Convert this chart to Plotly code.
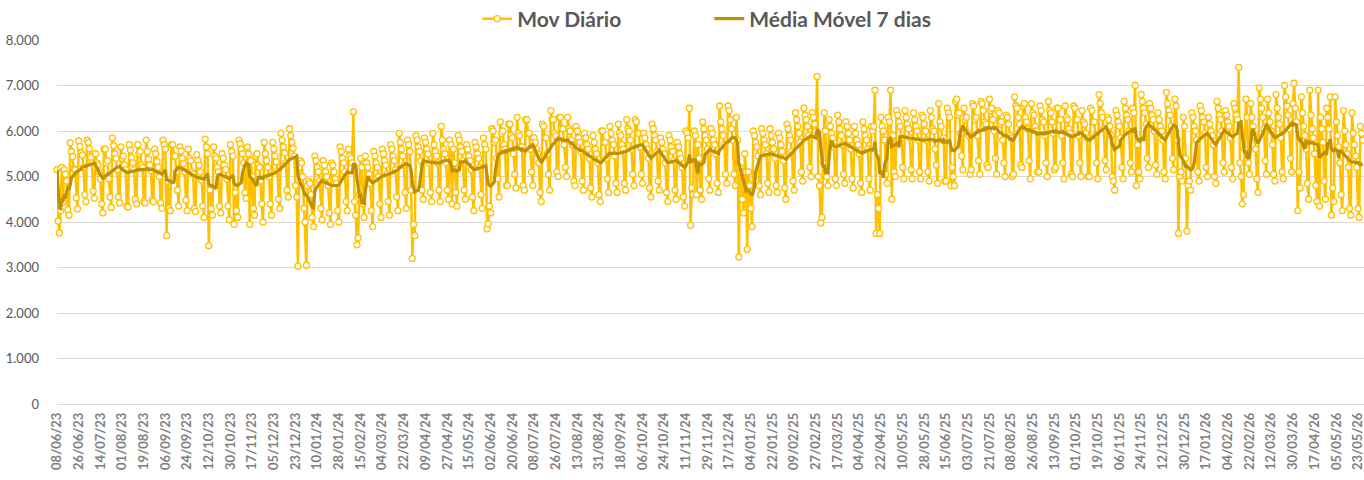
import pandas as pd
import plotly.graph_objects as go

# ---------------- DATA ----------------
start_date = "2023-06-08"

# Daily values ("Mov Diário"), one row per calendar week (Mon..Sun)
mov_bloco1 = [  # 08/06/23 - 03/12/23
    5150, 4020, 3760, 4250,
    5200, 4430, 5150, 5050, 4900, 4270, 4150,
    5740, 5550, 5440, 5170, 5150, 4530, 4290,
    5780, 5660, 5520, 5470, 5200, 4600, 4450,
    5800, 5750, 5610, 5420, 5300, 4680, 4520,
    5500, 5300, 5250, 5100, 4950, 4400, 4200,
    5600, 5600, 5300, 5350, 4950, 4550, 4320,
    5850, 5680, 5500, 5400, 5150, 4550, 4420,
    5650, 5400, 5450, 5250, 5150, 4350, 4330,
    5700, 5580, 5420, 5300, 5150, 4500, 4400,
    5700, 5500, 5550, 5250, 5200, 4450, 4420,
    5800, 5550, 5380, 5250, 5130, 4480, 4450,
    5600, 5500, 5330, 5200, 5000, 4420, 4300,
    5800, 5700, 5600, 3700, 4900, 4300, 4250,
    5700, 5700, 5450, 5450, 5100, 4700, 4350,
    5650, 5560, 5400, 5280, 5100, 4480, 4250,
    5600, 5400, 5350, 5100, 5050, 4300, 4230,
    5480, 5350, 5250, 5100, 4920, 4350, 4100,
    5820, 5650, 5500, 3480, 4700, 4300, 4150,
    5650, 5450, 5400, 5200, 5100, 4350, 4200,
    5500, 5400, 5250, 5150, 4950, 4350, 4050,
    5700, 5550, 5450, 3950, 4650, 4250, 4100,
    5800, 5720, 5600, 5500, 5300, 4650, 4520,
    5650, 5500, 3950, 5350, 5000, 4300, 4150,
    5450, 5500, 5250, 5200, 4900, 4400, 4000,
    5750, 5500, 5350, 5200, 5000, 4400, 4150,
]
mov_bloco2 = [  # 04/12/23 - 02/06/24
    5750, 5600, 5450, 5320, 5120, 4500, 4300,
    5950, 5800, 5650, 5520, 5300, 4700, 4550,
    6050, 5900, 5750, 5620, 5450, 4800, 4550,
    3030, 5200, 5350, 5300, 5000, 4300, 4000,
    3050, 4800, 4900, 4850, 4600, 4100, 3900,
    5450, 5350, 5200, 5100, 4900, 4300, 4050,
    5350, 5250, 5100, 5000, 4800, 4200, 3950,
    5300, 5250, 5100, 4950, 4850, 4250, 4000,
    5650, 5550, 5400, 5300, 5100, 4450, 4250,
    5600, 5450, 5400, 5300, 6420, 4450, 4150,
    3500, 3650, 4600, 5400, 5200, 4400, 4100,
    5450, 5300, 5200, 5050, 4850, 4250, 3900,
    5550, 5450, 5300, 5200, 5000, 4400, 4100,
    5600, 5500, 5350, 5250, 5050, 4450, 4150,
    5700, 5600, 5450, 5350, 5150, 4550, 4250,
    5950, 5750, 5600, 5450, 5250, 4650, 4300,
    5800, 5700, 5550, 4700, 3200, 3950, 3700,
    5900, 5800, 5650, 5550, 5350, 4700, 4500,
    5850, 5750, 5600, 5500, 5300, 4650, 4450,
    5950, 5700, 5550, 5450, 5300, 4700, 4450,
    6100, 5800, 5600, 5500, 5300, 4700, 4500,
    5800, 5700, 4400, 5600, 5300, 4650, 4350,
    5900, 5800, 5650, 5550, 5350, 4700, 4500,
    5700, 5600, 5450, 5350, 5150, 4550, 4250,
    5750, 5650, 5500, 5400, 5200, 4600, 4300,
    5850, 5700, 5600, 3850, 3960, 4350, 4200,
]
mov_bloco3 = [  # 03/06/24 - 01/12/24
    6050, 6000, 5750, 5800, 5400, 4950, 4550,
    6200, 5950, 6000, 5700, 5600, 4800, 4800,
    6150, 6150, 5900, 5850, 5500, 5050, 4750,
    6300, 5950, 5900, 5650, 5650, 4800, 4700,
    6250, 6250, 5950, 5950, 5600, 5100, 4800,
    5850, 5750, 5600, 5500, 5300, 4650, 4450,
    6150, 6100, 5850, 5850, 5500, 5050, 4700,
    6450, 6250, 6250, 5950, 5900, 5100, 5000,
    6300, 6300, 6050, 6050, 5700, 5200, 5000,
    6300, 6050, 6000, 5800, 5700, 4900, 4800,
    6100, 6000, 5850, 5750, 5550, 4900, 4700,
    5950, 5850, 5700, 5600, 5400, 4750, 4550,
    5900, 5750, 5600, 5500, 5300, 4600, 4450,
    6000, 6000, 5750, 5750, 5400, 4950, 4650,
    6100, 5950, 5800, 5700, 5450, 4850, 4650,
    6150, 5950, 5900, 5700, 5600, 4850, 4700,
    6250, 6050, 6000, 5800, 5600, 5050, 4800,
    6250, 6200, 5950, 5950, 5650, 5050, 4850,
    5950, 5850, 5700, 5600, 5400, 4750, 4550,
    6150, 6050, 5900, 5800, 5550, 4900, 4700,
    5850, 5750, 5600, 5500, 5300, 4650, 4450,
    5900, 5800, 5650, 5550, 5350, 4700, 4500,
    5750, 5650, 5500, 5400, 5200, 4550, 4350,
    6000, 5950, 5850, 6500, 3930, 4750, 4600,
    6000, 5900, 4600, 5700, 5400, 4700, 4500,
    6200, 6050, 5900, 5800, 5600, 4950, 4700,
]
mov_bloco4 = [  # 02/12/24 - 01/06/25
    6050, 5950, 5800, 5700, 5500, 4850, 4650,
    6550, 6200, 6050, 5900, 5700, 5050, 4850,
    6550, 6450, 6250, 6050, 5800, 5050, 4800,
    6300, 5800, 3230, 5200, 5100, 4500, 4200,
    5500, 5100, 3400, 5100, 4800, 4300, 3900,
    6000, 5900, 5750, 5650, 5450, 4800, 4600,
    6050, 5950, 5800, 5700, 5500, 4850, 4650,
    6050, 5900, 5750, 5600, 5400, 4800, 4650,
    5950, 5850, 5700, 5550, 5350, 4750, 4500,
    6150, 6050, 5900, 5800, 5550, 4900, 4700,
    6400, 6250, 6100, 5950, 5750, 5100, 4900,
    6500, 6350, 6250, 6100, 5900, 5200, 5000,
    6400, 6300, 6150, 6000, 7200, 5000, 4800,
    3980, 4100, 5300, 6400, 6000, 5000, 4800,
    6250, 6100, 5950, 5850, 5650, 4950, 4800,
    6350, 6200, 6050, 5900, 5700, 5050, 4850,
    6200, 6100, 5950, 5800, 5600, 4950, 4750,
    6100, 5950, 5800, 5700, 5500, 4850, 4650,
    6200, 6050, 5900, 5800, 5600, 4950, 4700,
    6100, 6000, 6100, 6900, 3750, 4600, 4300,
    3750, 6300, 6100, 6000, 5800, 5050, 4850,
    6300, 6200, 6900, 4500, 5900, 5100, 5000,
    6450, 6350, 6200, 6100, 5850, 5200, 4950,
    6450, 6300, 6150, 6050, 5850, 5150, 4950,
    6400, 6250, 6100, 6000, 5800, 5100, 4950,
    6350, 6300, 6150, 6000, 5800, 5100, 4900,
]
mov_bloco5 = [  # 02/06/25 - 30/11/25
    6450, 6300, 6050, 6000, 5600, 5250, 4850,
    6600, 6200, 6100, 5800, 5850, 4900, 4900,
    6500, 6400, 6300, 4800, 5200, 5000, 4800,
    6650, 6700, 6350, 6400, 5950, 5450, 5150,
    6500, 6250, 6300, 5950, 5900, 5050, 5150,
    6600, 6550, 6250, 6300, 5900, 5350, 5050,
    6650, 6600, 6450, 6200, 6150, 5250, 5200,
    6700, 6450, 6500, 6250, 6000, 5400, 5050,
    6450, 6400, 6150, 6200, 5800, 5300, 5000,
    6350, 6300, 6150, 5900, 5850, 5000, 5050,
    6750, 6550, 6500, 6300, 6150, 5250, 5200,
    6550, 6600, 6300, 6200, 6050, 5350, 4950,
    6600, 6400, 6350, 6100, 6000, 5100, 5100,
    6550, 6450, 6250, 6200, 5900, 5300, 5000,
    6650, 6450, 6400, 6200, 5950, 5150, 5200,
    6500, 6500, 6250, 6250, 5900, 5300, 4950,
    6550, 6300, 6250, 6050, 5950, 5050, 5000,
    6550, 6500, 6250, 6250, 5900, 5300, 5000,
    6450, 6200, 6150, 5950, 5850, 5000, 5000,
    6500, 6450, 6200, 6200, 5900, 5300, 4950,
    6800, 6600, 6400, 6300, 6050, 5350, 5150,
    6300, 6250, 6100, 5900, 5000, 4900, 4700,
    6450, 6350, 6200, 6100, 5850, 5200, 4950,
    6650, 6500, 6350, 6250, 6000, 5300, 5100,
    6500, 6400, 7000, 4800, 5700, 5100, 4950,
    6800, 6650, 6500, 6400, 6150, 5400, 5200,
]
mov_bloco6 = [  # 01/12/25 - 27/05/26
    6600, 6500, 6350, 6250, 6000, 5250, 5050,
    6400, 6250, 6100, 6000, 5800, 5100, 4950,
    6850, 6600, 6450, 6350, 6100, 5400, 5150,
    6700, 6550, 5800, 3750, 5000, 5100, 4900,
    6300, 6100, 5400, 3800, 4800, 4900, 4700,
    6400, 6300, 6100, 6000, 5800, 5100, 4900,
    6550, 6450, 6300, 6200, 5950, 5200, 5000,
    6300, 6150, 6000, 5900, 5700, 5000, 4850,
    6650, 6500, 6350, 6250, 6000, 5300, 5100,
    6450, 6350, 6200, 6100, 5850, 5200, 4950,
    6600, 6500, 6350, 6250, 7400, 5300, 5000,
    4400, 4600, 5600, 6700, 6300, 5300, 5050,
    6600, 6300, 6100, 5900, 5600, 4950, 4650,
    6950, 6700, 6500, 6300, 6050, 5350, 5050,
    6700, 6400, 6200, 6000, 5700, 5050, 4900,
    6800, 6500, 6300, 6150, 5850, 5100, 4950,
    7000, 6750, 6550, 6350, 6050, 5400, 5100,
    6600, 7050, 6500, 6200, 4250, 5100, 4750,
    6750, 6400, 6100, 5900, 5600, 4850, 4500,
    6900, 6350, 6050, 5850, 5500, 4800, 4450,
    6900, 4350, 6300, 6050, 5750, 4900, 4500,
    6500, 6300, 6050, 6750, 4150, 4750, 4450,
    6750, 6200, 5900, 5650, 5300, 4600, 4250,
    6450, 6000, 5700, 5500, 5200, 4300, 4150,
    6400, 5950, 5700, 5450, 5200, 4300, 4100,
    6100, 5950, 5800,
]

tick_labels = [
    "08/06/23", "26/06/23", "14/07/23", "01/08/23", "19/08/23", "06/09/23",
    "24/09/23", "12/10/23", "30/10/23", "17/11/23", "05/12/23", "23/12/23",
    "10/01/24", "28/01/24", "15/02/24", "04/03/24", "22/03/24", "09/04/24",
    "27/04/24", "15/05/24", "02/06/24", "20/06/24", "08/07/24", "26/07/24",
    "13/08/24", "31/08/24", "18/09/24", "06/10/24", "24/10/24", "11/11/24",
    "29/11/24", "17/12/24", "04/01/25", "22/01/25", "09/02/25", "27/02/25",
    "17/03/25", "04/04/25", "22/04/25", "10/05/25", "28/05/25", "15/06/25",
    "03/07/25", "21/07/25", "08/08/25", "26/08/25", "13/09/25", "01/10/25",
    "19/10/25", "06/11/25", "24/11/25", "12/12/25", "30/12/25", "17/01/26",
    "04/02/26", "22/02/26", "12/03/26", "30/03/26", "17/04/26", "05/05/26",
    "23/05/26",
]

series_names = ["Mov Diário", "Média Móvel 7 dias"]

# ---------------- BUILD ----------------
mov = mov_bloco1 + mov_bloco2 + mov_bloco3 + mov_bloco4 + mov_bloco5 + mov_bloco6
dates = pd.date_range(start_date, periods=len(mov), freq="D")
s = pd.Series(mov, index=dates)
media = s.rolling(7, min_periods=1).mean()

tick_vals = pd.to_datetime(tick_labels, format="%d/%m/%y")

FONT = "Lato, Calibri, Carlito, 'Open Sans', sans-serif"
GOLD = "#FFC000"
DARK_GOLD = "#BF9000"

fig = go.Figure()
fig.add_trace(go.Scatter(
    x=dates, y=s.values, name=series_names[0], mode="lines+markers",
    line=dict(color=GOLD, width=2.5),
    marker=dict(symbol="circle", size=6, color="white",
                line=dict(color=GOLD, width=1.3)),
    cliponaxis=False,
))
fig.add_trace(go.Scatter(
    x=dates, y=media.values, name=series_names[1], mode="lines",
    line=dict(color=DARK_GOLD, width=3.2),
    cliponaxis=False,
))

end_range = dates[-1] + pd.Timedelta(days=1)

fig.update_layout(
    width=1364, height=480,
    margin=dict(l=57, r=0, t=40, b=76, autoexpand=False),
    paper_bgcolor="white", plot_bgcolor="white",
    separators=",.",
    font=dict(family=FONT, color="#595959"),
    showlegend=True,
    legend=dict(
        orientation="h", xref="container", yref="container",
        x=0.3499, y=1 - 19 / 480, xanchor="left", yanchor="middle",
        font=dict(family=FONT, size=21, color="#595959", weight="bold"),
        entrywidth=187, entrywidthmode="pixels",
        bgcolor="rgba(0,0,0,0)",
    ),
    xaxis=dict(
        type="date",
        range=[dates[0], end_range],
        tickmode="array", tickvals=tick_vals, ticktext=tick_labels,
        tickangle=-90,
        tickfont=dict(family=FONT, size=13, color="#7F7F7F", weight="bold"),
        showgrid=False, showline=False, zeroline=False, ticks="",
        ticklabelstandoff=5, ticklabeloverflow="allow",
    ),
    yaxis=dict(
        range=[0, 8000], dtick=1000, tickformat=",d",
        tickfont=dict(family=FONT, size=13, color="#595959"),
        showgrid=True, gridcolor="#D9D9D9", gridwidth=1,
        zeroline=True, zerolinecolor="#D9D9D9", zerolinewidth=1,
        showline=False, ticks="", ticklabelstandoff=17,
    ),
)

fig.write_html(
    "out.html",
    config={"displayModeBar": False},
    post_script="document.body.style.margin='0';document.body.style.padding='0';",
)
